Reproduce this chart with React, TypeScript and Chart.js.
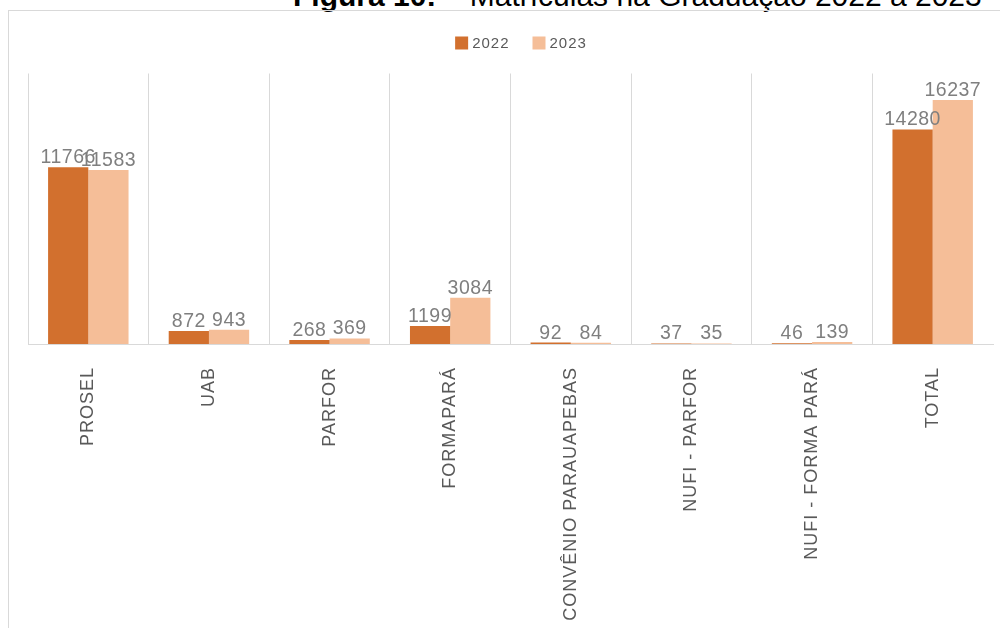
import React, { useEffect, useRef } from "react";
import { Chart, registerables } from "chart.js";

Chart.register(...registerables);

const categories = [
  "PROSEL",
  "UAB",
  "PARFOR",
  "FORMAPARÁ",
  "CONVÊNIO PARAUAPEBAS",
  "NUFI - PARFOR",
  "NUFI - FORMA PARÁ",
  "TOTAL",
];
const series2022 = [11766, 872, 268, 1199, 92, 37, 46, 14280];
const series2023 = [11583, 943, 369, 3084, 84, 35, 139, 16237];
const seriesLabels = ["2022", "2023"];
const seriesColors = ["#D2702E", "#F5BE98"];
const yMax = 18000;
const titleBold = "Figura 10:";
const titleRest = " – Matrículas na Graduação 2022 a 2023";

const FONT = '"Liberation Sans", Arial, sans-serif';

const spacingPlugin = {
  id: "spacing",
  beforeLayout(chart: any) {
    chart.ctx.letterSpacing = "1px";
  },
  beforeDraw(chart: any) {
    chart.ctx.letterSpacing = "1px";
  },
};

const valueLabels = {
  id: "valueLabels",
  afterDatasetsDraw(chart: any) {
    const ctx = chart.ctx;
    ctx.save();
    ctx.letterSpacing = "0.5px";
    ctx.font = `19.5px ${FONT}`;
    ctx.fillStyle = "#7f7f7f";
    ctx.textAlign = "center";
    ctx.textBaseline = "alphabetic";
    chart.data.datasets.forEach((ds: any, di: number) => {
      chart.getDatasetMeta(di).data.forEach((el: any, i: number) => {
        ctx.fillText(String(ds.data[i]), el.x, el.y - 4);
      });
    });
    ctx.restore();
  },
};

const customLegend = {
  id: "customLegend",
  afterDraw(chart: any) {
    const ctx = chart.ctx;
    ctx.save();
    ctx.letterSpacing = "1px";
    ctx.font = `15px ${FONT}`;
    ctx.textBaseline = "middle";
    ctx.textAlign = "left";
    const box = 13;
    const gapText = 4;
    const gapItem = 23;
    const items = chart.data.datasets.map((ds: any) => ({
      label: ds.label,
      color: ds.backgroundColor,
      w: ctx.measureText(ds.label).width,
    }));
    const total = items.reduce(
      (s: number, it: any, i: number) => s + box + gapText + it.w + (i ? gapItem : 0),
      0
    );
    const centerX = 512;
    const cy = 32;
    let x = centerX - total / 2;
    items.forEach((it: any) => {
      ctx.fillStyle = it.color;
      ctx.fillRect(x, cy - box / 2, box, box);
      x += box + gapText;
      ctx.fillStyle = "#595959";
      ctx.fillText(it.label, x, cy + 1);
      x += it.w + gapItem;
    });
    ctx.restore();
  },
};

export default function App() {
  const ref = useRef<HTMLCanvasElement>(null);

  useEffect(() => {
    const n = categories.length;
    const chart = new Chart(ref.current as HTMLCanvasElement, {
      type: "bar",
      data: {
        labels: categories,
        datasets: [
          {
            label: seriesLabels[0],
            data: series2022,
            backgroundColor: seriesColors[0],
            borderWidth: 0,
          },
          {
            label: seriesLabels[1],
            data: series2023,
            backgroundColor: seriesColors[1],
            borderWidth: 0,
          },
        ],
      },
      options: {
        responsive: false,
        animation: false,
        devicePixelRatio: 1,
        layout: { padding: { left: 19, right: 7, top: 62.5, bottom: 0 } },
        plugins: {
          legend: { display: false },
          tooltip: { enabled: false },
          title: { display: false },
        },
        datasets: { bar: { categoryPercentage: 0.667, barPercentage: 1 } },
        scales: {
          x: {
            grid: {
              offset: true,
              color: (c: any) =>
                c.index === undefined || c.index >= n ? "rgba(0,0,0,0)" : "#d9d9d9",
              lineWidth: 1,
              drawTicks: false,
            },
            border: { display: true, color: "#d9d9d9", width: 1 },
            ticks: {
              maxRotation: 90,
              minRotation: 90,
              autoSkip: false,
              padding: 23,
              color: "#595959",
              font: { family: FONT, size: 18 },
            },
            afterFit: (s: any) => {
              s.height = 284;
            },
          },
          y: { display: false, min: 0, max: yMax },
        },
      },
      plugins: [spacingPlugin, valueLabels, customLegend],
    } as any);
    return () => chart.destroy();
  }, []);

  return (
    <div
      style={{
        position: "absolute",
        left: 0,
        top: 0,
        width: 1000,
        height: 628,
        overflow: "hidden",
        background: "#fff",
      }}
    >
      <div
        style={{
          position: "absolute",
          left: 293,
          top: -19,
          font: `30px ${FONT}`,
          lineHeight: "30px",
          whiteSpace: "nowrap",
          color: "#000",
        }}
      >
        <b>{titleBold}</b>
        {titleRest}
      </div>
      <div
        style={{
          position: "absolute",
          left: 8,
          top: 10,
          width: 992,
          height: 618,
          boxSizing: "border-box",
          borderLeft: "1px solid #d9d9d9",
          borderTop: "1px solid #d9d9d9",
        }}
      >
        <canvas
          ref={ref}
          width={991}
          height={617}
          style={{ display: "block", width: 991, height: 617 }}
        />
      </div>
    </div>
  );
}
